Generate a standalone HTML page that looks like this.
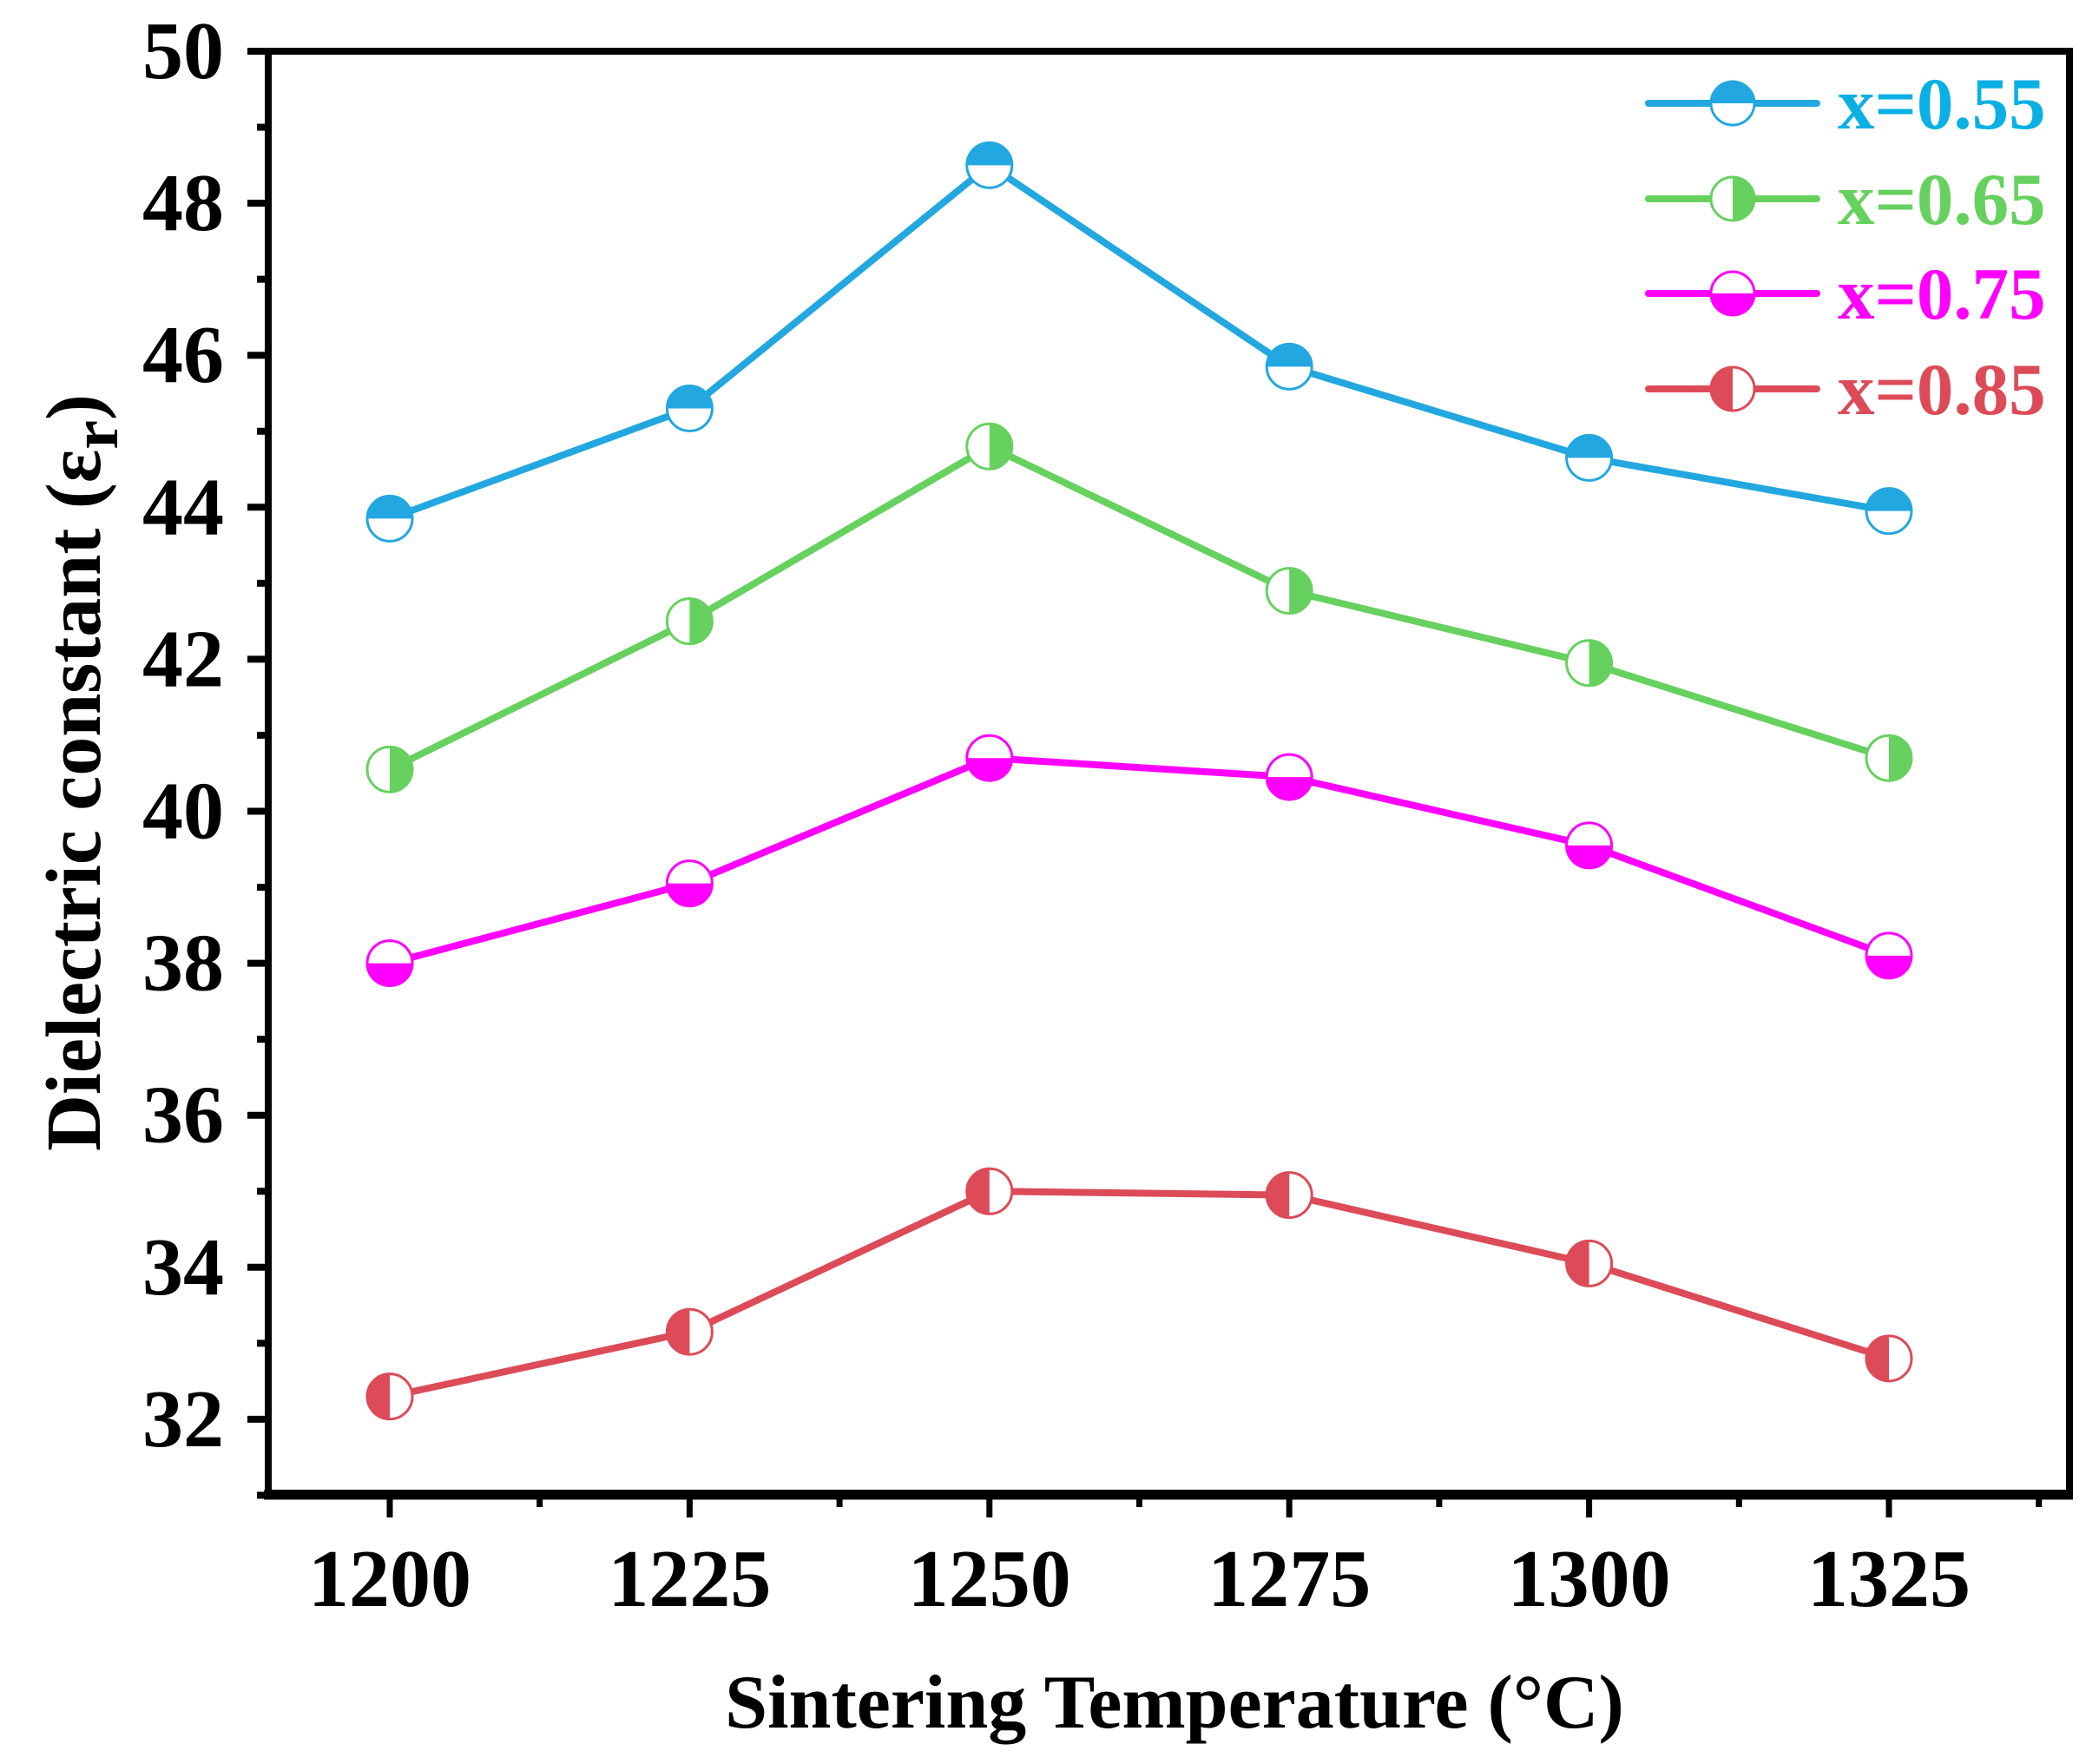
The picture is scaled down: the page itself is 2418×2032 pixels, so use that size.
<!DOCTYPE html>
<html><head><meta charset="utf-8"><style>
body{margin:0;background:#fff}
svg text{font-family:"Liberation Serif",serif;font-weight:bold}
</style></head><body>
<svg id="chart" width="2418" height="2027" xmlns="http://www.w3.org/2000/svg">
<g id="plot"></g>
</svg>
<script>
const categories=[1200,1225,1250,1275,1300,1325];
const s055=[43.85,45.3,48.5,45.85,44.65,43.95];
const s065=[40.55,42.5,44.8,42.9,41.95,40.7];
const s075=[38.0,39.05,40.7,40.45,39.55,38.1];
const s085=[32.3,33.15,35.0,34.95,34.05,32.8];
const seriesNames=["x=0.55","x=0.65","x=0.75","x=0.85"];
const yTicks=[32,34,36,38,40,42,44,46,48,50];
const xTicks=[1200,1225,1250,1275,1300,1325];

const NS="http://www.w3.org/2000/svg";
const L=309,R=2384,T=59,B=1720;
const xs=v=>449+(v-1200)/25*345.4;
const ys=v=>59+(50-v)/2*175.1;
const g=document.getElementById('plot');
function el(tag,a,p){const e=document.createElementNS(NS,tag);for(const k in a)e.setAttribute(k,a[k]);(p||g).appendChild(e);return e;}

let f=el('rect',{x:L,y:T,width:R-L,height:B-T,fill:'none',stroke:'#000','stroke-width':8});


let bx=el('line',{x1:L-5,x2:R+4,y1:B+2,y2:B+2,stroke:'#000','stroke-width':11});


for(let v=31;v<=50;v++){
  const y=ys(v);const major=v%2===0;
  const t=el('line',{x1:L,x2:L-(major?24:13),y1:y,y2:y,stroke:'#000','stroke-width':8});
  
  
}
yTicks.forEach(v=>{
  const t=el('text',{x:258,y:ys(v)+31,'font-size':94,'text-anchor':'end'});t.textContent=v;
  
  
});
for(let v=1200;v<=1337.5;v+=12.5){
  const x=xs(v);const major=(v-1200)%25===0;
  const t=el('line',{x1:x,x2:x,y1:B,y2:B+(major?28:16),stroke:'#000','stroke-width':7});
  
  
}
xTicks.forEach(v=>{
  const t=el('text',{x:xs(v),y:1850,'font-size':94,'text-anchor':'middle'});t.textContent=v;
  
  
});
let xt=el('text',{x:1353,y:1990,'font-size':88,'text-anchor':'middle'});xt.textContent='Sintering Temperature (°C)';


let yt=el('text',{x:0,y:0,'font-size':90,'text-anchor':'middle',transform:'translate(115,890) rotate(-90)'});
yt.innerHTML='Dielectric constant (ε<tspan baseline-shift="-20" font-size="76">r</tspan>)';



const colors=['#22A7E0','#66D15E','#FF00FF','#DC4B57'];
const textColors=['#0AB0E3','#66D15E','#FF00FF','#DC4B57'];
const data=[s055,s065,s075,s085];
function marker(cx,cy,r,c,k,parent){
  const grp=el('g',{},parent);
  el('circle',{cx,cy,r,fill:'#fff',stroke:c,'stroke-width':3},grp);
  let d;
  if(k===0)d=`M${cx-r},${cy} A${r},${r} 0 0 1 ${cx+r},${cy} Z`;
  if(k===1)d=`M${cx},${cy-r} A${r},${r} 0 0 1 ${cx},${cy+r} Z`;
  if(k===2)d=`M${cx+r},${cy} A${r},${r} 0 0 1 ${cx-r},${cy} Z`;
  if(k===3)d=`M${cx},${cy+r} A${r},${r} 0 0 1 ${cx},${cy-r} Z`;
  el('path',{d,fill:c},grp);
  return grp;
}
data.forEach((s,k)=>{
  const sg=el('g',{});
  
  
  const pl=el('polyline',{points:s.map((v,i)=>xs(categories[i])+','+ys(v)).join(' '),fill:'none',stroke:colors[k],'stroke-width':8,'stroke-linejoin':'round'},sg);
  
  
  s.forEach((v,i)=>{
    const m=marker(xs(categories[i]),ys(v),26,colors[k],k,sg);
    
    
  });
});
const lg=el('g',{});


[119,229,338,448].forEach((y,k)=>{
  const e=el('g',{},lg);
  
  
  el('line',{x1:1899,x2:2093,y1:y,y2:y,stroke:colors[k],'stroke-width':8,'stroke-linecap':'round'},e);
  marker(1996,y,25,colors[k],k,e);
  const t=el('text',{x:2117,y:y+29,'font-size':85,fill:textColors[k]},e);t.textContent=seriesNames[k];
});
</script>
</body></html>
